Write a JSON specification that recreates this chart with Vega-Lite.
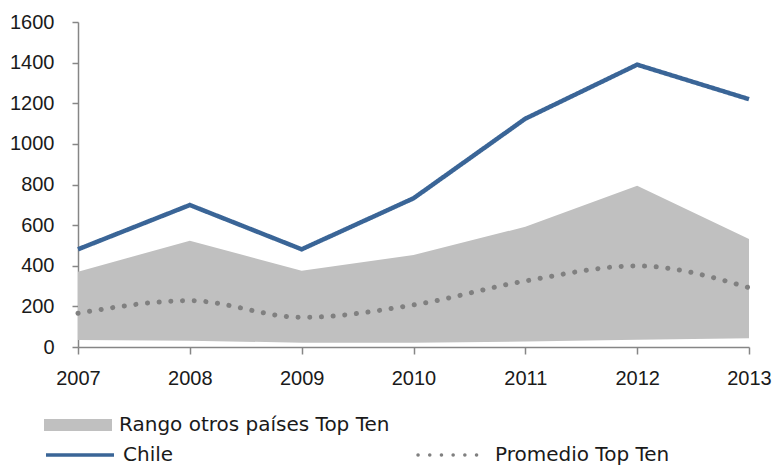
{
  "$schema": "https://vega.github.io/schema/vega-lite/v6.json",
  "width": 671,
  "height": 325,
  "autosize": {"type": "none"},
  "padding": {"left": 78, "top": 22, "right": 25, "bottom": 120},
  "background": "white",
  "config": {
    "view": {"stroke": null},
    "font": "Liberation Sans",
    "axis": {
      "grid": false,
      "domainColor": "#868686",
      "tickColor": "#868686",
      "domainWidth": 1.5,
      "tickWidth": 1.5,
      "labelFont": "Liberation Sans",
      "labelFontSize": 20,
      "labelColor": "#1a1a1a",
      "title": null
    },
    "legend": {
      "labelFont": "DejaVu Sans",
      "labelFontSize": 20,
      "labelColor": "#1a1a1a",
      "labelLimit": 0,
      "padding": 0,
      "title": null
    }
  },
  "data": {
    "values": [
      {"year": 2007, "chile": 481, "lo": 34, "hi": 371, "avg": 166},
      {"year": 2008, "chile": 699, "lo": 31, "hi": 523, "avg": 228},
      {"year": 2009, "chile": 481, "lo": 21, "hi": 376, "avg": 146},
      {"year": 2010, "chile": 732, "lo": 21, "hi": 453, "avg": 207},
      {"year": 2011, "chile": 1124, "lo": 27, "hi": 592, "avg": 325},
      {"year": 2012, "chile": 1390, "lo": 36, "hi": 794, "avg": 399},
      {"year": 2013, "chile": 1220, "lo": 43, "hi": 532, "avg": 292}
    ]
  },
  "encoding": {
    "x": {
      "field": "year",
      "type": "quantitative",
      "scale": {"domain": [2007, 2013], "nice": false, "zero": false},
      "axis": {
        "values": [2007, 2008, 2009, 2010, 2011, 2012, 2013],
        "format": "d",
        "labelFlush": false,
        "tickSize": 7,
        "labelPadding": 14
      }
    }
  },
  "layer": [
    {
      "mark": {"type": "area"},
      "encoding": {
        "y": {
          "field": "hi",
          "type": "quantitative",
          "scale": {"domain": [0, 1600], "nice": false},
          "axis": {
            "values": [0, 200, 400, 600, 800, 1000, 1200, 1400, 1600],
            "format": "d",
            "tickSize": 6,
            "labelPadding": 18
          }
        },
        "y2": {"field": "lo"},
        "fill": {
          "datum": "Rango otros países Top Ten",
          "scale": {"domain": ["Rango otros países Top Ten"], "range": ["#c0c0c0"]},
          "legend": {
            "orient": "none",
            "legendX": -34,
            "legendY": 369,
            "symbolType": "M-1,-0.18H1V0.18H-1Z",
            "symbolSize": 4624,
            "symbolStrokeWidth": 0,
            "labelOffset": 7
          }
        }
      }
    },
    {
      "mark": {"type": "line", "strokeWidth": 4.5, "strokeJoin": "miter"},
      "encoding": {
        "y": {"field": "chile", "type": "quantitative"},
        "color": {
          "datum": "Chile",
          "scale": {"domain": ["Chile", "Promedio Top Ten"], "range": ["#3a6597", "#808080"]},
          "legend": {
            "orient": "none",
            "legendX": -34,
            "legendY": 397,
            "columns": 2,
            "columnPadding": 237,
            "symbolType": "stroke",
            "symbolSize": 4624,
            "symbolStrokeWidth": 3.5,
            "labelOffset": 7,
            "encode": {
              "symbols": {
                "update": {
                  "strokeDash": {"signal": "datum.value == 'Chile' ? [1, 0] : [0.1, 7.6]"},
                  "strokeCap": {"signal": "datum.value == 'Chile' ? 'butt' : 'round'"}
                }
              }
            }
          }
        },
        "strokeDash": {
          "datum": "Chile",
          "scale": {"domain": ["Chile", "Promedio Top Ten"], "range": [[1, 0], [0.1, 11.6]]}
        }
      }
    },
    {
      "mark": {"type": "line", "strokeWidth": 5, "strokeCap": "round", "interpolate": "monotone"},
      "encoding": {
        "y": {"field": "avg", "type": "quantitative"},
        "color": {"datum": "Promedio Top Ten"},
        "strokeDash": {"datum": "Promedio Top Ten"}
      }
    }
  ]
}
